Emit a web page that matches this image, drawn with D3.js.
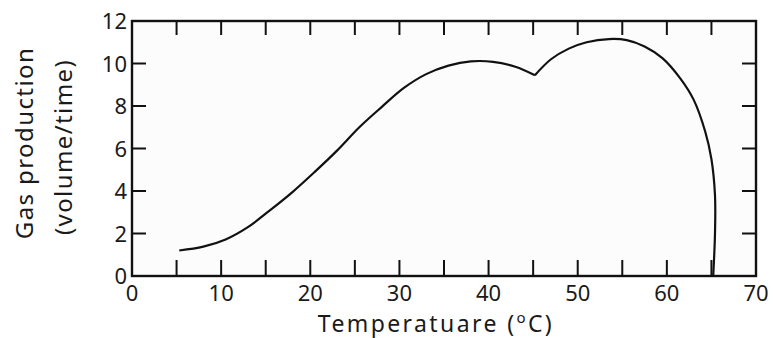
<!DOCTYPE html>
<html>
<head>
<meta charset="utf-8">
<script src="https://cdn.jsdelivr.net/npm/d3@7"></script>
<style>
  body { margin: 0; background: #fff; }
  svg text { font-family: "Noto Sans", sans-serif; fill: #1a1a1a; }
</style>
</head>
<body>
<div id="chart"></div>
<script>
// curve (temperature in C, gas production)
var temps = [5.3, 8, 10.5, 13, 15.5, 18, 20.5, 23, 25.5, 28, 30.5, 33, 35.5, 38, 40.5, 43, 45.2,
             47, 49, 51, 53.5, 55.5, 57.5, 59.5, 61.5, 63, 64.3, 65, 65.4, 65.4, 65.2];
var gas = [1.2, 1.38, 1.72, 2.3, 3.1, 3.95, 4.9, 5.9, 7.0, 7.95, 8.85, 9.5, 9.9, 10.1, 10.08, 9.85, 9.45,
           10.2, 10.7, 11.0, 11.15, 11.1, 10.8, 10.25, 9.3, 8.3, 6.8, 5.5, 3.8, 2.0, 0];
var kinkIndex = 16;   // sharp dip near 45 C

var xTicks = [0, 10, 20, 30, 40, 50, 60, 70];
var xMinor = [5, 10, 15, 20, 25, 30, 35, 40, 45, 50, 55, 60, 65];
var yTicks = [0, 2, 4, 6, 8, 10, 12];
var yInner = [2, 4, 6, 8, 10];

var width = 773, height = 338;
var margin = {top: 21, left: 132, bottom: 62, right: 17};

var svg = d3.select("#chart").append("svg")
    .attr("width", width)
    .attr("height", height);

var x = d3.scaleLinear().domain([0, 70]).range([margin.left, width - margin.right]);
var y = d3.scaleLinear().domain([0, 12]).range([height - margin.bottom, margin.top]);

// plot area
svg.append("rect")
    .attr("x", x(0)).attr("y", y(12))
    .attr("width", x(70) - x(0)).attr("height", y(0) - y(12))
    .attr("fill", "#fcfcfc")
    .attr("stroke", "#111")
    .attr("stroke-width", 2.4);

// inward ticks on all four sides
var tk = svg.append("g").attr("stroke", "#111").attr("stroke-width", 2);
tk.selectAll(".tb").data(xMinor).enter().append("line")
    .attr("x1", d => x(d)).attr("x2", d => x(d))
    .attr("y1", y(0)).attr("y2", y(0) - 16);
tk.selectAll(".tt").data(xMinor).enter().append("line")
    .attr("x1", d => x(d)).attr("x2", d => x(d))
    .attr("y1", y(12)).attr("y2", y(12) + 14);
tk.selectAll(".tl").data(yInner).enter().append("line")
    .attr("x1", x(0)).attr("x2", x(0) + 14)
    .attr("y1", d => y(d)).attr("y2", d => y(d));
tk.selectAll(".tr").data(yInner).enter().append("line")
    .attr("x1", x(70)).attr("x2", x(70) - 14)
    .attr("y1", d => y(d)).attr("y2", d => y(d));

// tick labels
svg.append("g").selectAll("text").data(xTicks).enter().append("text")
    .attr("x", d => x(d)).attr("y", y(0) + 24.5)
    .attr("text-anchor", "middle")
    .attr("font-size", 22)
    .text(d => d);

svg.append("g").selectAll("text").data(yTicks).enter().append("text")
    .attr("x", x(0) - 5).attr("y", d => y(d) + 8)
    .attr("text-anchor", "end")
    .attr("font-size", 22)
    .text(d => d);

// axis titles
var xt = svg.append("text")
    .attr("x", 436).attr("y", 331.5)
    .attr("text-anchor", "middle")
    .attr("font-size", 23)
    .attr("letter-spacing", 2.4)
    .text("Temperatuare (");
xt.append("tspan").attr("font-size", 15).attr("dy", -9).text("o");
xt.append("tspan").attr("dy", 9).text("C)");

var yt = svg.append("text")
    .attr("transform", "translate(33,143) rotate(-90)")
    .attr("text-anchor", "middle")
    .attr("font-size", 24)
    .attr("letter-spacing", 1.4);
yt.append("tspan").attr("x", 0).attr("dy", 0).text("Gas production");
yt.append("tspan").attr("x", -4).attr("dy", 39).text("(volume/time)");

// the curve, in two smooth pieces meeting at the dip
var pts = temps.map((t, i) => [t, gas[i]]);
var line = d3.line()
    .x(d => x(d[0]))
    .y(d => y(d[1]))
    .curve(d3.curveCatmullRom.alpha(0.5));

svg.selectAll(".curve")
    .data([pts.slice(0, kinkIndex + 1), pts.slice(kinkIndex)])
    .enter().append("path")
    .attr("fill", "none")
    .attr("stroke", "#111")
    .attr("stroke-width", 2.2)
    .attr("d", line);
</script>
</body>
</html>
